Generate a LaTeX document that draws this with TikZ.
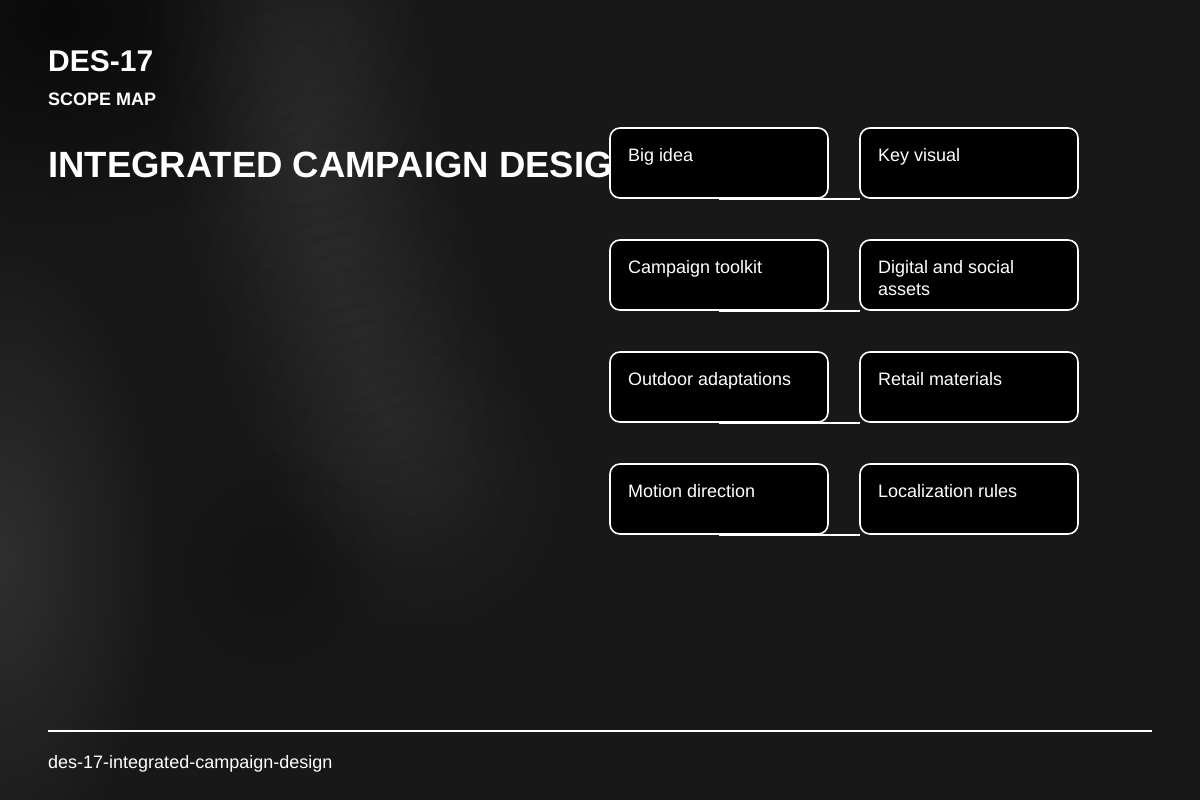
\documentclass[tikz,border=0pt]{standalone}
\usepackage{fontspec}
\setmainfont{Liberation Sans}
\usetikzlibrary{positioning,fadings}
\definecolor{page-bg}{HTML}{181818}
\tikzfading[name=soft-blob, inner color=transparent!0, outer color=transparent!100]
\tikzset{
    scope-box/.style = {draw=white, fill=black, line width=1.6pt, rectangle, rounded corners=10pt, inner xsep=18pt, inner ysep=0pt, outer sep=0pt, anchor=north west, text=white},
    scope-link/.style = {draw=white, line width=1.6pt},
    head-text/.style = {anchor=base west, inner sep=0pt, text=white},
    glow/.style = {fill=white, path fading=soft-blob},
    shadow-blob/.style = {fill=black, path fading=soft-blob},
}
\newcommand{\boxtext}[1]{\begin{minipage}[t][70pt][t]{182pt}\raggedright\fontsize{18}{22}\selectfont\rule{0pt}{33pt}#1\end{minipage}}

\begin{document}
\begin{tikzpicture}[x=1pt, y=-1pt]
\useasboundingbox (0,0) rectangle (1200,800);

% background
\begin{scope}
\clip (0,0) rectangle (1200,800);
\fill[page-bg] (0,0) rectangle (1200,800);
\fill[shadow-blob, opacity=0.6] (60,20) ellipse [x radius=280, y radius=220];
\foreach \cx/\cy in {280/0, 292/70, 306/140, 322/210, 340/280, 362/350, 388/420, 420/490}
    \fill[glow, opacity=0.035] (\cx,\cy) circle [radius=160];
\fill[glow, opacity=0.1] (0,560) ellipse [x radius=160, y radius=320];
\fill[shadow-blob, opacity=0.2] (270,570) ellipse [x radius=110, y radius=120];
\end{scope}

% headings
\node[head-text, font=\fontsize{30}{30}\selectfont\bfseries] (code) at (48,72) {DES-17};
\node[head-text, font=\fontsize{18}{18}\selectfont\bfseries] (kind) at (48,105) {SCOPE MAP};
\node[head-text, font=\fontsize{36.5}{36}\selectfont\bfseries] (title) at (48,177) {INTEGRATED CAMPAIGN DESIGN};

% scope boxes
\node[scope-box] (big) at (610,128) {\boxtext{Big idea}};
\node[scope-box, right=32pt of big] (key) {\boxtext{Key visual}};
\node[scope-box, below=42pt of big] (toolkit) {\boxtext{Campaign toolkit}};
\node[scope-box, right=32pt of toolkit] (digital) {\boxtext{Digital and social assets}};
\node[scope-box, below=42pt of toolkit] (outdoor) {\boxtext{Outdoor adaptations}};
\node[scope-box, right=32pt of outdoor] (retail) {\boxtext{Retail materials}};
\node[scope-box, below=42pt of outdoor] (motion) {\boxtext{Motion direction}};
\node[scope-box, right=32pt of motion] (local) {\boxtext{Localization rules}};

\foreach \a/\b in {big/key, toolkit/digital, outdoor/retail, motion/local}
    \draw[scope-link] ([yshift=-1pt]\a.south) -- ([yshift=-1pt]\b.south west);

% footer
\coordinate (rule-l) at (48,731);
\coordinate (rule-r) at (1152,731);
\draw[scope-link] (rule-l) -- (rule-r);
\node[head-text, font=\fontsize{18}{18}\selectfont] (slug) at (48,768) {des-17-integrated-campaign-design};
\end{tikzpicture}
\end{document}
